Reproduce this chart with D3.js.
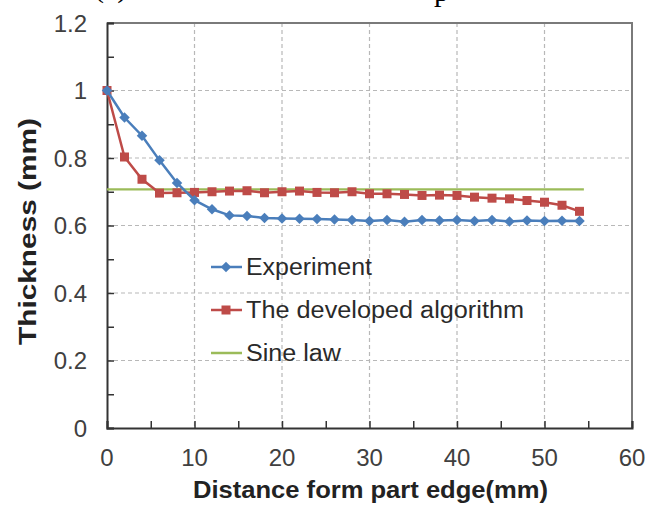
<!DOCTYPE html>
<html>
<head>
<meta charset="utf-8">
<script src="https://cdn.jsdelivr.net/npm/d3@7"></script>
<style>
  body { margin: 0; background: #fff; }
  svg { display: block; }
</style>
</head>
<body>
<script>
// distance along the part (mm)
var distance = [0, 2, 4, 6, 8, 10, 12, 14, 16, 18, 20, 22, 24, 26, 28, 30, 32, 34, 36, 38, 40, 42, 44, 46, 48, 50, 52, 54];
var experiment = [1.0, 0.92, 0.866, 0.793, 0.726, 0.675, 0.648, 0.63, 0.628, 0.622, 0.621, 0.62, 0.619, 0.618, 0.616, 0.613, 0.616, 0.611, 0.616, 0.615, 0.616, 0.613, 0.616, 0.612, 0.615, 0.613, 0.614, 0.613];
var algorithm = [1.0, 0.803, 0.737, 0.696, 0.697, 0.698, 0.70, 0.702, 0.703, 0.697, 0.70, 0.702, 0.698, 0.697, 0.70, 0.694, 0.694, 0.692, 0.689, 0.69, 0.689, 0.684, 0.681, 0.679, 0.674, 0.669, 0.66, 0.642];
var sineLaw = [[0, 0.707], [54.5, 0.707]];
var xTicks = [0, 10, 20, 30, 40, 50, 60];
var yTicks = [0, 0.2, 0.4, 0.6, 0.8, 1.0, 1.2];
var seriesNames = ["Experiment", "The developed algorithm", "Sine law"];

var W = 648, H = 508;
var mL = 107, mR = 632, mT = 23, mB = 428;

var svg = d3.select("body").append("svg")
  .attr("width", W).attr("height", H);

var x = d3.scaleLinear().domain([0, 60]).range([mL, mR]);
var y = d3.scaleLinear().domain([0, 1.2]).range([mB, mT]);

// cut-off caption line at the very top (only descenders show)
svg.append("text").attr("x", 94).attr("y", -3)
  .style("font-family", "Liberation Serif, serif").style("font-size", "30px")
  .text("(c)");
svg.append("text").attr("x", 434).attr("y", 1)
  .style("font-family", "Liberation Serif, serif").style("font-size", "30px")
  .text("p");

// grid
svg.append("g").selectAll("line").data(yTicks.slice(1, -1)).enter().append("line")
  .attr("x1", mL).attr("x2", mR)
  .attr("y1", function (d) { return y(d); }).attr("y2", function (d) { return y(d); })
  .attr("stroke", "#b8b8b8").attr("stroke-width", 1.2).attr("stroke-dasharray", "4,3");
svg.append("g").selectAll("line").data(xTicks.slice(1, -1)).enter().append("line")
  .attr("y1", mT).attr("y2", mB)
  .attr("x1", function (d) { return x(d); }).attr("x2", function (d) { return x(d); })
  .attr("stroke", "#b8b8b8").attr("stroke-width", 1.2).attr("stroke-dasharray", "4,3");

// top / right border
svg.append("path")
  .attr("d", "M" + mL + "," + mT + "H" + mR + "V" + mB)
  .attr("fill", "none").attr("stroke", "#7a7a7a").attr("stroke-width", 2);

// axes with inward ticks
var xAxis = d3.axisBottom(x).tickValues(d3.range(0, 61, 5)).tickSize(-7).tickFormat("");
var yAxis = d3.axisLeft(y).tickValues(d3.range(0, 12.1, 1).map(function (d) { return d / 10; })).tickSize(-7).tickFormat("");
svg.append("g").attr("transform", "translate(0," + mB + ")").call(xAxis)
  .call(function (g) {
    g.select(".domain").attr("stroke", "#333").attr("stroke-width", 2);
    g.selectAll(".tick line").attr("stroke", "#333").attr("stroke-width", 1.5);
  });
svg.append("g").attr("transform", "translate(" + mL + ",0)").call(yAxis)
  .call(function (g) {
    g.select(".domain").attr("stroke", "#333").attr("stroke-width", 2);
    g.selectAll(".tick line").attr("stroke", "#333").attr("stroke-width", 1.5);
  });

// tick labels
var labelFont = "Liberation Sans, Arial, sans-serif";
svg.append("g").selectAll("text").data(xTicks).enter().append("text")
  .attr("x", function (d) { return x(d); }).attr("y", 466)
  .attr("text-anchor", "middle")
  .style("font-family", labelFont).style("font-size", "24px").style("fill", "#404040")
  .text(function (d) { return d; });
svg.append("g").selectAll("text").data(yTicks).enter().append("text")
  .attr("x", 87).attr("y", function (d) { return y(d) + 8.5; })
  .attr("text-anchor", "end")
  .style("font-family", labelFont).style("font-size", "24px").style("fill", "#404040")
  .text(function (d) { return d === 0 || d === 1 ? d : d.toFixed(1); });

// axis titles
svg.append("text").attr("x", 193).attr("y", 498)
  .attr("textLength", 355).attr("lengthAdjust", "spacingAndGlyphs")
  .style("font-family", labelFont).style("font-size", "23px").style("font-weight", "bold").style("fill", "#222")
  .text("Distance form part edge(mm)");
svg.append("text").attr("transform", "translate(36,345) rotate(-90)")
  .attr("textLength", 227).attr("lengthAdjust", "spacingAndGlyphs")
  .style("font-family", labelFont).style("font-size", "24px").style("font-weight", "bold").style("fill", "#222")
  .text("Thickness (mm)");

var blue = "#4a7ebb", red = "#be4b48", green = "#9bbb59";
var line = d3.line().x(function (d) { return x(d[0]); }).y(function (d) { return y(d[1]); });

// sine law
svg.append("path").datum(sineLaw).attr("d", line)
  .attr("fill", "none").attr("stroke", green).attr("stroke-width", 2.2);

// developed algorithm
var algPts = distance.map(function (d, i) { return [d, algorithm[i]]; });
svg.append("path").datum(algPts).attr("d", line)
  .attr("fill", "none").attr("stroke", red).attr("stroke-width", 2.5);
svg.append("g").selectAll("rect").data(algPts).enter().append("rect")
  .attr("x", function (d) { return x(d[0]) - 4.5; }).attr("y", function (d) { return y(d[1]) - 4.5; })
  .attr("width", 9).attr("height", 9).attr("fill", red);

// experiment
var expPts = distance.map(function (d, i) { return [d, experiment[i]]; });
var diamond = d3.symbol().type(d3.symbolDiamond2).size(70);
svg.append("path").datum(expPts).attr("d", line)
  .attr("fill", "none").attr("stroke", blue).attr("stroke-width", 2.5);
svg.append("g").selectAll("path").data(expPts).enter().append("path")
  .attr("d", diamond)
  .attr("transform", function (d) { return "translate(" + x(d[0]) + "," + y(d[1]) + ")"; })
  .attr("fill", blue);

// legend
var legY = [267, 310, 353];
var legLen = [126, 278, 95];
var legColors = [blue, red, green];
var leg = svg.append("g");
seriesNames.forEach(function (name, i) {
  leg.append("line").attr("x1", 211).attr("x2", 242).attr("y1", legY[i]).attr("y2", legY[i])
    .attr("stroke", legColors[i]).attr("stroke-width", 2.5);
  if (i === 0) {
    leg.append("path").attr("d", diamond).attr("transform", "translate(226," + legY[i] + ")").attr("fill", blue);
  } else if (i === 1) {
    leg.append("rect").attr("x", 221.5).attr("y", legY[i] - 4.5).attr("width", 9).attr("height", 9).attr("fill", red);
  }
  leg.append("text").attr("x", 246).attr("y", legY[i] + 8)
    .attr("textLength", legLen[i]).attr("lengthAdjust", "spacingAndGlyphs")
    .style("font-family", labelFont).style("font-size", "23px").style("fill", "#2a2a2a")
    .text(name);
});
</script>
</body>
</html>
